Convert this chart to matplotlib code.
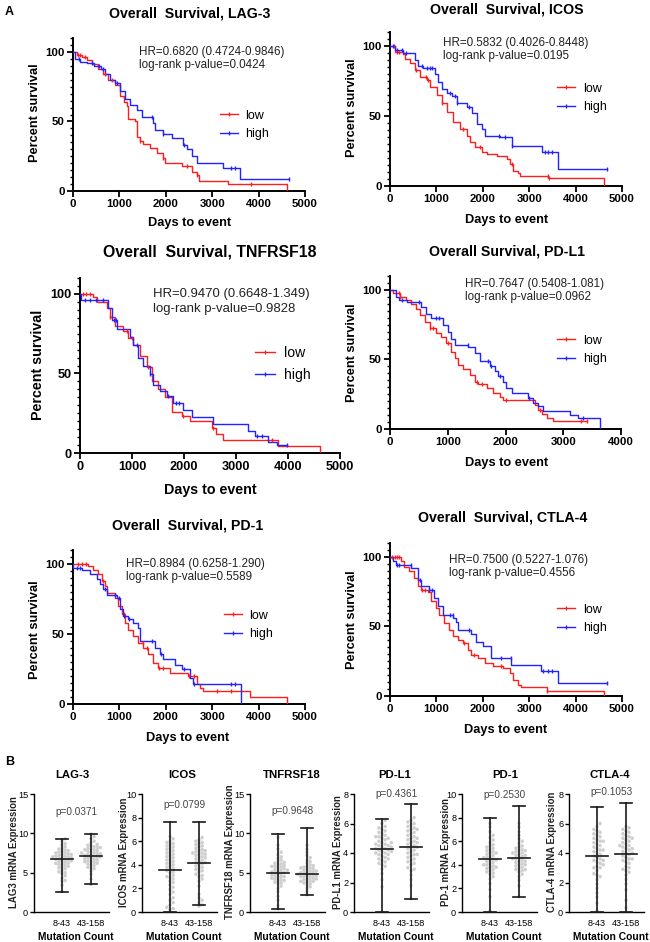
import numpy as np
import matplotlib
matplotlib.use("Agg")
import matplotlib.pyplot as plt
from matplotlib.lines import Line2D

plt.rcParams['font.family'] = ['Liberation Sans', 'DejaVu Sans']

W, H = 650, 942
fig = plt.figure(figsize=(W / 100, H / 100), dpi=100)

RED = '#ff1e1e'
BLUE = '#2323ff'

# ---------------- Panel A data (Kaplan-Meier step curves) ----------------
lag3_low_t = [0, 80, 200, 300, 420, 546, 650, 760, 905, 1013, 1100, 1157, 1193, 1336, 1372, 1450, 1516, 1660, 1803, 1947, 1983, 2342, 2557, 2665, 2723, 3348, 4619]
lag3_low_s = [100, 98, 96, 94, 91, 88, 84, 80, 76, 68, 64, 61, 52, 50, 39, 36, 34, 31, 27, 23.5, 20, 18, 14, 11.5, 7, 5, 0]
lag3_low_c = [100, 150, 250, 700, 850, 1450, 1950, 2450, 2680, 3830]
lag3_high_t = [0, 50, 150, 300, 450, 600, 700, 800, 900, 1013, 1120, 1228, 1372, 1480, 1731, 1767, 1947, 2126, 2378, 2450, 2557, 2665, 3240, 3599, 4662]
lag3_high_s = [100, 95, 93, 92, 90, 88, 84, 80, 77.5, 72, 66, 62, 58, 53, 49, 44, 41, 38, 33, 30, 25, 20, 16.5, 8.5, 8.5]
lag3_high_c = [120, 400, 560, 650, 950, 1700, 1950, 2400, 3400, 3500, 4662]

icos_low_t = [0, 100, 280, 323, 431, 539, 647, 790, 862, 1006, 1114, 1221, 1365, 1509, 1652, 1724, 1832, 1976, 2083, 2299, 2514, 2586, 2658, 2766, 2802, 3412, 4612]
icos_low_s = [100, 96, 94, 91, 88, 83, 78, 75.6, 71, 65, 59, 53, 46, 41, 36, 31.5, 28, 24, 22.7, 21.5, 19.6, 15.5, 11, 9, 7, 5.5, 0]
icos_low_c = [80, 150, 200, 550, 780, 820, 1120, 1580, 1930, 2620, 3400, 3430]
icos_high_t = [0, 100, 280, 539, 611, 718, 970, 1042, 1114, 1221, 1329, 1437, 1652, 1760, 1868, 1976, 2047, 2371, 2622, 3269, 3628, 4670]
icos_high_s = [100, 97, 95, 90, 86, 84.5, 80, 74.5, 69, 66.6, 64, 59, 56.5, 52, 44.6, 41, 36, 35, 28.6, 24, 12, 12]
icos_high_c = [60, 150, 250, 350, 700, 800, 870, 900, 1300, 1400, 1450, 1700, 2350, 2470, 2630, 3350, 3400, 3500, 4670]

tnf_low_t = [0, 250, 320, 513, 577, 673, 833, 929, 1026, 1154, 1282, 1378, 1506, 1635, 1763, 1955, 2115, 2532, 2620, 2750, 3800, 4620]
tnf_low_s = [100, 98, 95, 91, 85.6, 80, 77, 72, 67.6, 61, 54, 45, 40, 35, 26, 23, 20, 15.7, 12, 8.3, 4.7, 0]
tnf_low_c = [50, 120, 200, 580, 900, 1000, 1300, 1980, 2550, 3700]
tnf_high_t = [0, 20, 450, 545, 609, 705, 962, 1026, 1122, 1218, 1346, 1410, 1538, 1667, 1795, 1987, 2147, 2564, 3237, 3365, 3622, 3782, 3974]
tnf_high_s = [100, 96, 96, 91, 83.5, 78, 73, 67.6, 60, 55, 49.6, 43, 39, 36, 31.5, 27, 22.5, 18, 14, 10.4, 7.2, 5, 5]
tnf_high_c = [100, 200, 300, 450, 650, 700, 1100, 1350, 1700, 1850, 1900, 3400, 3500, 3974]

pdl1_low_t = [0, 52, 168, 283, 370, 457, 514, 601, 688, 803, 890, 977, 1064, 1121, 1179, 1266, 1382, 1468, 1526, 1671, 1786, 1902, 1960, 2509, 2566, 2624, 2711, 2815, 3405]
pdl1_low_s = [100, 97.6, 94.7, 93, 89.7, 86, 82, 77, 72.5, 69, 66.5, 61.7, 55.7, 51, 46, 43, 39, 34, 32.5, 29.4, 25.8, 23, 20.6, 17.5, 14, 10.8, 8, 5.5, 5.5]
pdl1_low_c = [150, 180, 700, 750, 1000, 1500, 1600, 2000, 2600, 3300, 3405]
pdl1_high_t = [0, 100, 150, 300, 543, 630, 717, 919, 1006, 1064, 1121, 1353, 1468, 1555, 1728, 1815, 1873, 1960, 2017, 2104, 2393, 2480, 2566, 2653, 3116, 3260, 3636]
pdl1_high_s = [100, 95, 93, 91.6, 88, 83, 79.7, 75, 70, 65, 60.5, 59, 54.5, 48.6, 45, 41.4, 37.8, 34, 29.4, 25.8, 22, 19, 16.3, 12.7, 10.3, 8, 0]
pdl1_high_c = [200, 500, 800, 850, 1350, 1700, 1750, 1900, 2400, 3350]

pd1_low_t = [0, 330, 438, 546, 618, 690, 726, 905, 977, 1049, 1121, 1193, 1300, 1408, 1516, 1624, 1731, 1839, 2091, 2486, 2665, 2737, 2802, 3815, 4620]
pd1_low_s = [100, 98.6, 96, 92.6, 88, 84, 79.5, 76, 70, 64, 58, 53, 48.6, 43.8, 40, 35.5, 29.5, 26, 22.4, 20, 14, 11.7, 9.5, 4.8, 0]
pd1_low_c = [100, 200, 280, 650, 1100, 1500, 1600, 1850, 1950, 2500, 2600, 3100, 3400]
pd1_high_t = [0, 10, 200, 366, 510, 582, 654, 726, 941, 1013, 1085, 1193, 1300, 1408, 1444, 1767, 1875, 1947, 2198, 2342, 2522, 2593, 3613]
pd1_high_s = [100, 97, 96, 92.6, 89, 85.5, 82, 78, 76, 67.6, 63, 60.5, 58, 54.5, 45, 40, 35.5, 32, 27.6, 24.8, 18.8, 14, 0]
pd1_high_c = [80, 150, 700, 900, 1000, 1100, 1200, 1700, 1900, 2400, 2600, 3400, 3500]

ctla4_low_t = [0, 238, 310, 418, 526, 598, 670, 814, 886, 994, 1066, 1174, 1282, 1354, 1462, 1570, 1679, 1751, 1895, 2039, 2219, 2435, 2579, 2651, 2759, 2831, 3377, 4612]
ctla4_low_s = [100, 97, 93, 89.7, 85, 79, 76.4, 75, 68, 63, 58.4, 52.4, 47.6, 43, 40, 38, 33, 29.6, 27, 24, 21.6, 20, 16.3, 11.5, 8, 6.3, 3.6, 0]
ctla4_low_c = [50, 100, 150, 200, 700, 750, 1600, 1800, 2400, 3380]
ctla4_high_t = [0, 58, 130, 418, 454, 598, 670, 850, 958, 1030, 1138, 1354, 1426, 1462, 1751, 1859, 2003, 2183, 2615, 3264, 3624, 4669]
ctla4_high_s = [100, 97, 94.5, 94, 92, 83.6, 79, 76.4, 70.4, 64.4, 58.4, 56, 53, 47.6, 44.7, 39, 35.6, 27, 22, 18.3, 9, 9]
ctla4_high_c = [150, 200, 450, 650, 850, 900, 1300, 1350, 1700, 2400, 2600, 3300, 3400, 3500, 4669]

km_titles = ['Overall  Survival, LAG-3', 'Overall  Survival, ICOS', 'Overall  Survival, TNFRSF18',
             'Overall Survival, PD-L1', 'Overall  Survival, PD-1', 'Overall  Survival, CTLA-4']
km_hr = ['HR=0.6820 (0.4724-0.9846)', 'HR=0.5832 (0.4026-0.8448)', 'HR=0.9470 (0.6648-1.349)',
         'HR=0.7647 (0.5408-1.081)', 'HR=0.8984 (0.6258-1.290)', 'HR=0.7500 (0.5227-1.076)']
km_p = ['log-rank p-value=0.0424', 'log-rank p-value=0.0195', 'log-rank p-value=0.9828',
        'log-rank p-value=0.0962', 'log-rank p-value=0.5589', 'log-rank p-value=0.4556']
km_xmax = [5000, 5000, 5000, 4000, 5000, 5000]
km_xticks = [[0, 1000, 2000, 3000, 4000, 5000]] * 3 + [[0, 1000, 2000, 3000, 4000]] + [[0, 1000, 2000, 3000, 4000, 5000]] * 2
legend_labels = ['low', 'high']

km_data = [
    (lag3_low_t, lag3_low_s, lag3_low_c, lag3_high_t, lag3_high_s, lag3_high_c),
    (icos_low_t, icos_low_s, icos_low_c, icos_high_t, icos_high_s, icos_high_c),
    (tnf_low_t, tnf_low_s, tnf_low_c, tnf_high_t, tnf_high_s, tnf_high_c),
    (pdl1_low_t, pdl1_low_s, pdl1_low_c, pdl1_high_t, pdl1_high_s, pdl1_high_c),
    (pd1_low_t, pd1_low_s, pd1_low_c, pd1_high_t, pd1_high_s, pd1_high_c),
    (ctla4_low_t, ctla4_low_s, ctla4_low_c, ctla4_high_t, ctla4_high_s, ctla4_high_c),
]

km_layout = [
    dict(rect=(73, 38, 305, 191), title=(190, 13), hr=(139, 52), ylab=(35, 113), xlab=(190, 223), leg=(220, 115), sc=1.0),
    dict(rect=(390, 32, 622, 186), title=(507, 9), hr=(443, 43), ylab=(352, 108), xlab=(507, 220), leg=(557, 88), sc=1.0),
    dict(rect=(80, 278, 340, 453), title=(210, 252), hr=(153, 294), ylab=(38, 365), xlab=(210, 490), leg=(255, 353), sc=1.12),
    dict(rect=(390, 276, 621, 429), title=(507, 252), hr=(465, 284), ylab=(352, 353), xlab=(507, 463), leg=(557, 340), sc=1.0),
    dict(rect=(73, 550, 305, 704), title=(188, 526), hr=(126, 564), ylab=(35, 630), xlab=(188, 738), leg=(224, 615), sc=1.0),
    dict(rect=(390, 543, 622, 696), title=(503, 518), hr=(449, 560), ylab=(352, 620), xlab=(506, 730), leg=(557, 609), sc=1.0),
]

# ---------------- Panel B data ----------------
b_titles = ['LAG-3', 'ICOS', 'TNFRSF18', 'PD-L1', 'PD-1', 'CTLA-4']
b_ylabels = ['LAG3 mRNA Expression', 'ICOS mRNA Expression', 'TNFRSF18 mRNA Expression',
             'PD-L1 mRNA Expression', 'PD-1 mRNA Expression', 'CTLA-4 mRNA Expression']
b_pvals = ['p=0.0371', 'p=0.0799', 'p=0.9648', 'p=0.4361', 'p=0.2530', 'p=0.1053']
b_pval_y = [12.7, 9.1, 12.8, 8.0, 9.9, 8.15]
b_ymax = [15, 10, 15, 8, 10, 8]
b_yticks = [[0, 5, 10, 15], [0, 2, 4, 6, 8, 10], [0, 5, 10, 15], [0, 2, 4, 6, 8], [0, 2, 4, 6, 8, 10], [0, 2, 4, 6, 8]]
b_groups = ['8-43', '43-158']

lag3_g1 = [2.6, 3.4, 3.9, 4.3, 4.6, 4.9, 5.1, 5.3, 5.5, 5.6, 5.8, 5.9, 6.0, 6.1, 6.2, 6.3, 6.4, 6.5, 6.5, 6.6, 6.7, 6.7, 6.8, 6.9, 6.9, 7.0, 7.1, 7.1, 7.2, 7.3, 7.3, 7.4, 7.5, 7.6, 7.7, 7.8, 7.9, 8.0, 8.1, 8.3, 8.5, 8.7, 9.0, 9.3, 4.0, 5.0, 5.7, 6.2, 7.0, 7.5]
lag3_g2 = [3.5, 4.2, 4.8, 5.2, 5.5, 5.7, 5.9, 6.0, 6.1, 6.2, 6.3, 6.4, 6.5, 6.6, 6.7, 6.8, 6.9, 7.0, 7.0, 7.1, 7.2, 7.2, 7.3, 7.4, 7.5, 7.5, 7.6, 7.7, 7.8, 7.9, 8.0, 8.1, 8.2, 8.3, 8.4, 8.5, 8.6, 8.8, 9.0, 9.3, 9.6, 9.9, 6.8, 7.4, 5.6, 6.4, 7.9, 8.2]
icos_g1 = [0.2, 0.3, 0.4, 0.6, 0.8, 1.0, 1.2, 1.5, 1.7, 1.9, 2.1, 2.3, 2.5, 2.6, 2.8, 2.9, 3.0, 3.1, 3.3, 3.4, 3.5, 3.6, 3.7, 3.8, 3.9, 4.0, 4.1, 4.2, 4.3, 4.4, 4.5, 4.6, 4.7, 4.8, 4.9, 5.0, 5.1, 5.2, 5.3, 5.4, 5.5, 5.6, 5.7, 5.8, 5.9, 6.0, 6.2, 6.4]
icos_g2 = [0.5, 0.6, 0.8, 1.0, 1.2, 1.5, 2.2, 2.6, 3.0, 3.2, 3.4, 3.5, 3.6, 3.7, 3.8, 3.9, 4.0, 4.1, 4.2, 4.3, 4.4, 4.5, 4.6, 4.7, 4.8, 4.9, 5.0, 5.0, 5.1, 5.2, 5.3, 5.4, 5.5, 5.6, 5.7, 5.8, 5.9, 6.0, 6.1, 6.3, 4.2, 4.6, 3.1, 5.2, 2.8, 4.9]
tnf_g1 = [0.4, 0.8, 1.5, 2.0, 2.6, 3.0, 3.3, 3.6, 3.8, 4.0, 4.1, 4.2, 4.3, 4.4, 4.5, 4.6, 4.7, 4.8, 4.9, 5.0, 5.0, 5.1, 5.2, 5.3, 5.4, 5.5, 5.6, 5.7, 5.8, 5.9, 6.0, 6.1, 6.2, 6.4, 6.6, 6.8, 7.0, 7.3, 7.6, 8.0, 8.5, 9.5, 4.5, 5.3, 4.0, 3.7, 5.8, 6.3]
tnf_g2 = [2.2, 2.6, 3.0, 3.2, 3.4, 3.6, 3.7, 3.8, 3.9, 4.0, 4.1, 4.2, 4.3, 4.4, 4.5, 4.5, 4.6, 4.7, 4.8, 4.9, 5.0, 5.0, 5.1, 5.2, 5.3, 5.4, 5.5, 5.6, 5.7, 5.8, 5.9, 6.0, 6.2, 6.4, 6.6, 6.9, 7.2, 7.6, 8.0, 8.5, 4.2, 4.8, 5.2, 3.9, 4.6, 5.6]
pdl1_g1 = [1.7, 2.2, 2.6, 2.9, 3.1, 3.3, 3.4, 3.5, 3.6, 3.7, 3.8, 3.9, 4.0, 4.0, 4.1, 4.2, 4.2, 4.3, 4.4, 4.4, 4.5, 4.5, 4.6, 4.7, 4.7, 4.8, 4.9, 5.0, 5.0, 5.1, 5.2, 5.3, 5.4, 5.5, 5.6, 5.7, 5.8, 6.0, 6.2, 3.2, 4.1, 4.6, 3.9, 5.1, 4.3, 3.6]
pdl1_g2 = [0.9, 1.8, 2.2, 2.5, 2.8, 3.0, 3.2, 3.3, 3.5, 3.6, 3.7, 3.8, 3.9, 4.0, 4.1, 4.2, 4.3, 4.4, 4.5, 4.6, 4.7, 4.8, 4.9, 5.0, 5.1, 5.2, 5.3, 5.4, 5.5, 5.6, 5.7, 5.8, 5.9, 6.0, 6.1, 6.2, 6.4, 4.4, 3.4, 4.7, 5.0, 3.9, 5.6, 2.9]
pd1_g1 = [0.1, 1.3, 1.9, 2.4, 2.8, 3.0, 3.2, 3.4, 3.5, 3.6, 3.7, 3.8, 3.9, 4.0, 4.1, 4.2, 4.3, 4.4, 4.5, 4.6, 4.7, 4.8, 4.9, 5.0, 5.1, 5.2, 5.3, 5.4, 5.5, 5.6, 5.7, 5.9, 6.1, 6.3, 6.5, 6.8, 7.2, 7.5, 4.0, 4.4, 3.3, 5.0, 4.6, 3.8]
pd1_g2 = [1.3, 2.2, 2.7, 3.0, 3.2, 3.4, 3.5, 3.6, 3.7, 3.8, 3.9, 4.0, 4.1, 4.2, 4.3, 4.4, 4.5, 4.6, 4.7, 4.8, 4.9, 5.0, 5.1, 5.2, 5.3, 5.4, 5.5, 5.6, 5.8, 6.0, 6.2, 6.5, 6.8, 7.2, 7.5, 4.0, 4.5, 5.0, 3.6, 4.3, 4.8, 5.2]
ctla4_g1 = [0.1, 0.6, 1.0, 1.3, 1.6, 1.9, 2.2, 2.4, 2.6, 2.8, 3.0, 3.1, 3.2, 3.3, 3.4, 3.5, 3.6, 3.7, 3.8, 3.9, 4.0, 4.1, 4.2, 4.3, 4.4, 4.5, 4.6, 4.7, 4.8, 4.9, 5.0, 5.1, 5.2, 5.3, 5.4, 5.5, 5.6, 5.8, 6.0, 3.5, 4.2, 2.5, 4.8, 3.0]
ctla4_g2 = [0.3, 0.8, 1.5, 1.9, 2.2, 2.5, 2.7, 2.9, 3.1, 3.3, 3.4, 3.5, 3.6, 3.7, 3.8, 3.9, 4.0, 4.1, 4.2, 4.3, 4.4, 4.5, 4.6, 4.7, 4.8, 4.9, 5.0, 5.1, 5.2, 5.3, 5.4, 5.5, 5.6, 5.7, 5.8, 3.0, 4.0, 4.5, 5.0, 3.6, 2.8, 4.3]
b_points = [(lag3_g1, lag3_g2), (icos_g1, icos_g2), (tnf_g1, tnf_g2),
            (pdl1_g1, pdl1_g2), (pd1_g1, pd1_g2), (ctla4_g1, ctla4_g2)]

b_center = [(6.7, 7.1), (3.6, 4.15), (5.0, 4.8), (4.3, 4.4), (4.5, 4.6), (3.8, 3.95)]
b_low = [(2.6, 3.5), (0.0, 0.6), (0.4, 2.2), (0.0, 0.9), (0.0, 1.3), (0.0, 0.0)]
b_high = [(9.3, 9.9), (7.6, 7.65), (9.9, 10.7), (6.3, 7.3), (8.0, 9.0), (7.1, 7.4)]

b_axleft = [34, 142, 250, 354, 462, 569]
b_title_x = [72, 182, 292, 395, 505, 610]
b_ylab_x = [14, 124, 230, 338, 446, 552]


def ax_px(l, t, r, b):
    return fig.add_axes([l / W, 1 - b / H, (r - l) / W, (b - t) / H])


def ftext(x, y, s, **kw):
    return fig.text(x / W, 1 - y / H, s, **kw)


def step_value(t, s, x):
    t = np.asarray(t)
    s = np.asarray(s)
    idx = np.searchsorted(t, x, side='right') - 1
    return s[np.clip(idx, 0, len(s) - 1)]


# ---------------- Draw panel A ----------------
for i in range(6):
    lay = km_layout[i]
    sc = lay['sc']
    l, t, r, b = lay['rect']
    ax = ax_px(l, t, r, b)
    lt, ls, lc, ht, hs, hc = km_data[i]
    ax.step(lt, ls, where='post', color=RED, lw=1.0, zorder=3)
    ax.step(ht, hs, where='post', color=BLUE, lw=1.0, zorder=3)
    ax.plot(lc, step_value(lt, ls, lc), ls='none', marker='|', ms=3.5, mew=1.0, color=RED, zorder=4)
    ax.plot(hc, step_value(ht, hs, hc), ls='none', marker='|', ms=3.5, mew=1.0, color=BLUE, zorder=4)
    ax.set_xlim(0, km_xmax[i])
    ax.set_ylim(0, 110)
    ax.set_xticks(km_xticks[i])
    ax.set_yticks([0, 50, 100])
    ax.set_yticks(np.arange(0, 111, 5), minor=True)
    for sp in ['top', 'right']:
        ax.spines[sp].set_visible(False)
    for sp in ['left', 'bottom']:
        ax.spines[sp].set_linewidth(1.4)
    ax.tick_params(axis='both', which='major', direction='out', length=4, width=1.3,
                   labelsize=8.2 * sc, pad=2)
    ax.tick_params(axis='y', which='minor', direction='out', length=2.2, width=1.0)
    for lab in ax.get_xticklabels() + ax.get_yticklabels():
        lab.set_fontweight('bold')
    ax.patch.set_alpha(0)
    for sp in ['left', 'bottom']:
        ax.spines[sp].set_clip_on(False)

    ftext(*lay['title'], km_titles[i], ha='center', va='center', fontsize=10.2 * sc, fontweight='bold')
    hx, hy = lay['hr']
    ftext(hx, hy, km_hr[i], ha='left', va='center', fontsize=8.4 * sc, color='#222222')
    ftext(hx, hy + 13 * sc, km_p[i], ha='left', va='center', fontsize=8.4 * sc, color='#222222')
    ftext(*lay['ylab'], 'Percent survival', ha='center', va='center', rotation=90,
          fontsize=9.2 * sc, fontweight='bold')
    ftext(*lay['xlab'], 'Days to event', ha='center', va='center', fontsize=9.2 * sc, fontweight='bold')
    gx, gy = lay['leg']
    handles = [Line2D([0], [0], color=RED, lw=1.0, marker='|', ms=3.5, mew=1.0),
               Line2D([0], [0], color=BLUE, lw=1.0, marker='|', ms=3.5, mew=1.0)]
    fs = 9.0 * sc
    ax.legend(handles, legend_labels, loc='center left',
              bbox_to_anchor=(gx / W, 1 - (gy + 10 * sc) / H), bbox_transform=fig.transFigure,
              frameon=False, borderpad=0, borderaxespad=0, handlelength=1.45,
              handletextpad=0.6, labelspacing=0.55, fontsize=fs, numpoints=1)

ftext(5, 12, 'A', ha='left', va='center', fontsize=9, fontweight='bold')
ftext(5, 762, 'B', ha='left', va='center', fontsize=9, fontweight='bold')


# ---------------- Draw panel B ----------------
def swarm_offsets(vals, ypx, xpx, d=3.1, maxw=12.5):
    order = np.argsort(vals)
    placed = []
    offs = np.zeros(len(vals))
    cands = [0.0]
    k = 1
    while k * d <= maxw:
        cands += [k * d, -k * d]
        k += 1
    for idx in order:
        y = vals[idx] * ypx
        best = None
        for c in cands:
            if all((c - px) ** 2 + (y - py) ** 2 >= d * d for px, py in placed):
                best = c
                break
        if best is None:
            best = cands[len(placed) % len(cands)]
        placed.append((best, y))
        offs[idx] = best / xpx
    return offs


BX_PER = 29.0
B_BOTTOM, B_TOP = 912, 794
for i in range(6):
    l = b_axleft[i]
    r = l + 75
    ax = ax_px(l, B_TOP, r, B_BOTTOM)
    x0 = 1 - 28 / BX_PER
    ax.set_xlim(x0, x0 + 75 / BX_PER)
    ax.set_ylim(0, b_ymax[i])
    ypx = (B_BOTTOM - B_TOP) / b_ymax[i]
    for g in range(2):
        vals = np.asarray(b_points[i][g], dtype=float)
        xs = (g + 1) + swarm_offsets(vals, ypx, BX_PER)
        ax.scatter(xs, vals, s=6.5, color='#cfcfcf', edgecolors='none', zorder=2, clip_on=False)
        xc = g + 1
        ax.plot([xc, xc], [b_low[i][g], b_high[i][g]], color='#1a1a1a', lw=1.2, zorder=3, clip_on=False)
        ax.plot([xc - 0.2, xc + 0.2], [b_high[i][g]] * 2, color='#1a1a1a', lw=1.2, zorder=3, clip_on=False)
        ax.plot([xc - 0.2, xc + 0.2], [b_low[i][g]] * 2, color='#1a1a1a', lw=1.2, zorder=3, clip_on=False)
        ax.plot([xc - 0.38, xc + 0.38], [b_center[i][g]] * 2, color='#1a1a1a', lw=1.2, zorder=3, clip_on=False)
    ax.set_xticks([1, 2])
    ax.set_xticklabels(b_groups)
    ax.set_yticks(b_yticks[i])
    for sp in ['top', 'right']:
        ax.spines[sp].set_visible(False)
    for sp in ['left', 'bottom']:
        ax.spines[sp].set_linewidth(1.0)
    ax.tick_params(axis='both', direction='out', length=3, width=1.0, labelsize=6.6, pad=1.2)
    ax.tick_params(axis='x', length=0, pad=5)
    ax.patch.set_alpha(0)
    ax.text(1.5, b_pval_y[i], b_pvals[i], ha='center', va='center', fontsize=7.2, color='#444444')
    ftext(b_title_x[i], 775, b_titles[i], ha='center', va='center', fontsize=8.2, fontweight='bold')
    ftext(b_ylab_x[i], 852, b_ylabels[i], ha='center', va='center', rotation=90, fontsize=6.9,
          fontweight='bold', color='#222222')
    ftext(l + 42, 937, 'Mutation Count', ha='center', va='center', fontsize=7.4, fontweight='bold')

fig.savefig('out.png', dpi=100)
